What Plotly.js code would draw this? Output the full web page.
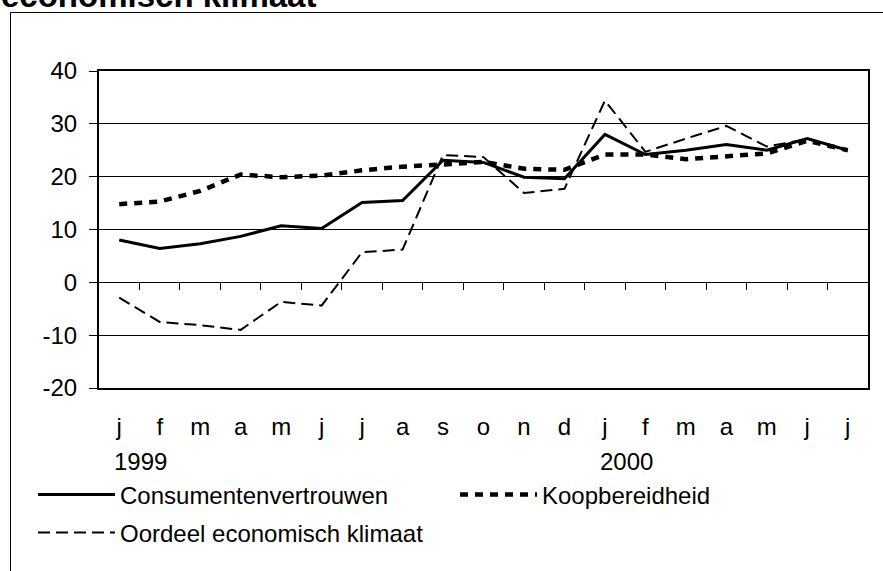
<!DOCTYPE html>
<html><head><meta charset="utf-8">
<script src="https://cdn.plot.ly/plotly-3.0.1.min.js"></script>
<style>html,body{margin:0;padding:0;background:#fff}#chart{width:883px;height:571px}</style>
</head><body><div id="chart"></div>
<script>
const months = ['j','f','m','a','m','j','j','a','s','o','n','d','j','f','m','a','m','j','j'];
const years = ['1999','2000'];
const yearStartIndex = [0, 12];
const yTickValues = [-20, -10, 0, 10, 20, 30, 40];
const yTickLabels = ['-20', '-10', '0', '10', '20', '30', '40'];
const consumentenvertrouwen = [8, 6.4, 7.3, 8.7, 10.7, 10.2, 15.1, 15.5, 23.1, 22.7, 19.9, 19.6, 28, 24.2, 25, 26.1, 25, 27.2, 25];
const koopbereidheid = [14.8, 15.3, 17.3, 20.4, 19.9, 20.2, 21.2, 21.9, 22.3, 22.8, 21.5, 21.3, 24.2, 24.2, 23.3, 23.8, 24.4, 26.8, 25];
const oordeel = [-2.9, -7.5, -8.1, -9, -3.7, -4.4, 5.7, 6.2, 24.1, 23.7, 16.9, 17.7, 34.4, 24.7, 27.2, 29.6, 25.7, 27.1, 25];
const seriesNames = ['Consumentenvertrouwen', 'Koopbereidheid', 'Oordeel economisch klimaat'];
const titleText = 'economisch klimaat';

const idx = months.map((m, i) => i);
const boundaries = idx.slice(1).map(i => i - 0.5);
const FONT = 'Liberation Sans, Arial, Helvetica, sans-serif';
const FS = 24;
const L = 99, R = 15, T = 71, B = 183, W = 883, H = 571;
const PW = W - L - R, PH = H - T - B;
const px = v => (v - L) / PW;
const py = v => (H - B - v) / PH;

const traces = [
  {x: idx, y: oordeel, name: seriesNames[2], type: 'scatter', mode: 'lines',
   line: {color: '#000', width: 2, dash: '12px,6px'}, legend: 'legend3', xaxis: 'x', yaxis: 'y'},
  {x: idx, y: koopbereidheid, name: seriesNames[1], type: 'scatter', mode: 'lines',
   line: {color: '#000', width: 4.5, dash: '8px,7px'}, legend: 'legend2', xaxis: 'x2', yaxis: 'y'},
  {x: idx, y: consumentenvertrouwen, name: seriesNames[0], type: 'scatter', mode: 'lines',
   line: {color: '#000', width: 3}, legend: 'legend', xaxis: 'x', yaxis: 'y'}
];

const legendBase = {orientation: 'h', xanchor: 'left', yanchor: 'middle', itemwidth: 77,
  bgcolor: 'rgba(0,0,0,0)', borderwidth: 0, font: {family: FONT, size: FS, color: '#000'}};

const layout = {
  width: W, height: H,
  margin: {l: L, r: R, t: T, b: B, pad: 0},
  paper_bgcolor: '#fff', plot_bgcolor: '#fff',
  font: {family: FONT, size: FS, color: '#000'},
  showlegend: true,
  xaxis: {range: [-0.5, idx.length - 0.5], tickvals: idx, ticktext: months, showgrid: false,
    zeroline: false, showline: true, mirror: true, linecolor: '#000', linewidth: 2,
    ticks: '', ticklabelstandoff: 16, tickfont: {family: FONT, size: FS, color: '#000'}, fixedrange: true},
  xaxis2: {overlaying: 'x', anchor: 'free', position: 20 / 60, side: 'bottom',
    range: [-0.5, idx.length - 0.5], tickvals: boundaries, showticklabels: false,
    ticks: 'outside', ticklen: 7, tickcolor: '#000', tickwidth: 1,
    showgrid: false, zeroline: false, showline: false, fixedrange: true},
  yaxis: {range: [-20, 40], tickvals: yTickValues, ticktext: yTickLabels, showgrid: true, gridcolor: '#000', gridwidth: 1,
    zeroline: false, showline: true, mirror: true, linecolor: '#000', linewidth: 2,
    ticks: 'outside', ticklen: 8, tickcolor: '#000', tickwidth: 1, ticklabelstandoff: 7,
    tickfont: {family: FONT, size: FS, color: '#000'}, fixedrange: true},
  legend: Object.assign({}, legendBase, {x: px(33), y: py(495)}),
  legend2: Object.assign({}, legendBase, {x: px(455), y: py(495)}),
  legend3: Object.assign({}, legendBase, {x: px(33), y: py(533)}),
  annotations: [
    {text: '<b>' + titleText + '</b>', xref: 'paper', yref: 'paper', x: px(-1), y: py(-4),
     xanchor: 'left', yanchor: 'middle', showarrow: false, font: {family: FONT, size: 33, color: '#000'}},
    ...years.map((yr, i) => ({text: yr, xref: 'x', yref: 'paper', x: yearStartIndex[i] - 0.18, y: py(462),
     xanchor: 'left', yanchor: 'middle', showarrow: false, font: {family: FONT, size: FS, color: '#000'}}))
  ],
  shapes: [
    {type: 'rect', xref: 'paper', yref: 'paper', x0: px(10.5), x1: px(1000), y0: py(800), y1: py(12.5),
     line: {color: '#000', width: 1}, fillcolor: 'rgba(0,0,0,0)', layer: 'below'}
  ]
};

Plotly.newPlot('chart', traces, layout, {staticPlot: true, displayModeBar: false});
</script>
</body></html>
